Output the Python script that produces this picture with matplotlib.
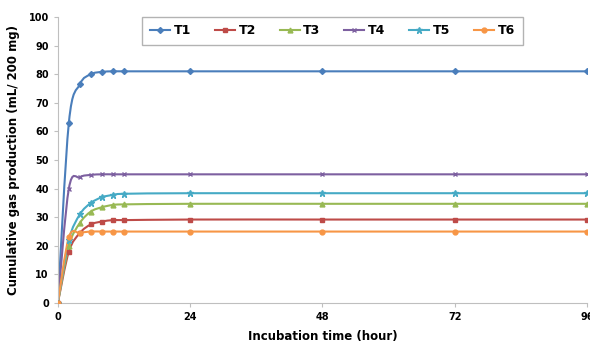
import matplotlib.pyplot as plt
from matplotlib.path import Path
from matplotlib.patches import PathPatch
import numpy as np

# Data
hours = [0, 2, 4, 6, 8, 10, 12, 24, 48, 72, 96]
t1 = [0, 63, 76.5, 80, 80.8, 81, 81, 81, 81, 81, 81]
t2 = [0, 18, 24.5, 27.5, 28.5, 29, 29, 29.2, 29.2, 29.2, 29.2]
t3 = [0, 20, 28, 32, 33.5, 34.3, 34.5, 34.7, 34.7, 34.7, 34.7]
t4 = [0, 40, 44, 44.8, 45, 45, 45, 45, 45, 45, 45]
t5 = [0, 22, 31, 35, 37, 37.8, 38.2, 38.4, 38.4, 38.4, 38.4]
t6 = [0, 23, 24.5, 25, 25, 25, 25, 25, 25, 25, 25]

series = [('T1', t1, '#4A7EBB', 'D'), ('T2', t2, '#BE4B48', 's'),
          ('T3', t3, '#98B954', '^'), ('T4', t4, '#7D60A0', 'x'),
          ('T5', t5, '#46AAC5', '*'), ('T6', t6, '#F79646', 'o')]

fig = plt.figure(figsize=(5.9, 3.46), dpi=100)
ax = fig.add_axes([0.098, 0.124, 0.897, 0.827])


def smooth_path(x, y):
    # Excel style smoothed line: Catmull-Rom converted to cubic Bezier segments
    x = np.asarray(x, float)
    y = np.asarray(y, float)
    verts = [(x[0], y[0])]
    codes = [Path.MOVETO]
    n = len(x)
    for i in range(n - 1):
        p0 = (x[i - 1], y[i - 1]) if i > 0 else (x[i], y[i])
        p1 = (x[i], y[i])
        p2 = (x[i + 1], y[i + 1])
        p3 = (x[i + 2], y[i + 2]) if i + 2 < n else (x[i + 1], y[i + 1])
        c1 = (p1[0] + (p2[0] - p0[0]) / 6, p1[1] + (p2[1] - p0[1]) / 6)
        c2 = (p2[0] - (p3[0] - p1[0]) / 6, p2[1] - (p3[1] - p1[1]) / 6)
        # keep control points from overshooting in x
        c1 = (min(max(c1[0], p1[0]), p2[0]), c1[1])
        c2 = (min(max(c2[0], p1[0]), p2[0]), c2[1])
        verts += [c1, c2, p2]
        codes += [Path.CURVE4] * 3
    return Path(verts, codes)


for name, vals, col, mk in series:
    ax.add_patch(PathPatch(smooth_path(hours, vals), facecolor='none',
                           edgecolor=col, lw=1.5, zorder=2))
    ms = {'D': 3, 's': 3.5, '^': 3.5, 'x': 3.5, '*': 5, 'o': 3.5}[mk]
    ax.plot(hours, vals, linestyle='none', marker=mk, color=col,
            markersize=ms, markeredgewidth=1.0, zorder=3)
    ax.plot([], [], color=col, lw=1.5, marker=mk, markersize=ms, label=name)

ax.set_xlim(0, 96)
ax.set_ylim(0, 100)
ax.set_xticks([0, 24, 48, 72, 96])
ax.set_yticks(range(0, 101, 10))
for s in ['top', 'right']:
    ax.spines[s].set_visible(False)
for s in ['left', 'bottom']:
    ax.spines[s].set_color('#BFBFBF')
ax.tick_params(colors='#BFBFBF', labelcolor='black', length=3, labelsize=7)
for lab in ax.get_xticklabels() + ax.get_yticklabels():
    lab.set_fontweight('bold')

ax.set_xlabel('Incubation time (hour)', fontsize=8.5, fontweight='bold', labelpad=6)
ax.set_ylabel('Cumulative gas production (mL/ 200 mg)', fontsize=8.5,
              fontweight='bold', labelpad=6)

leg = ax.legend(loc='upper center', bbox_to_anchor=(0.519, 1.0), ncol=6,
                frameon=True, fancybox=False, borderaxespad=0,
                prop={'size': 9, 'weight': 'bold'}, borderpad=0.6,
                handlelength=1.6, columnspacing=1.9, handletextpad=0.3)
leg.get_frame().set_edgecolor('#A0A0A0')

plt.savefig('out.png', dpi=100)
